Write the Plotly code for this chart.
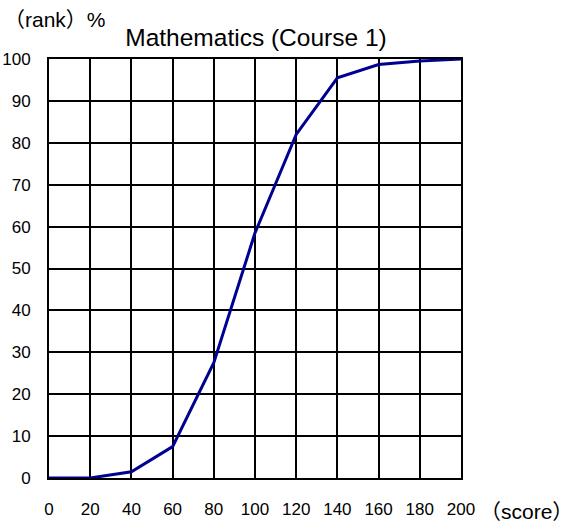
import plotly.graph_objects as go

scores = [0, 20, 40, 60, 80, 100, 120, 140, 160, 180, 200]
rank_pct = [0, 0, 1.5, 7.5, 27.5, 58.5, 82, 95.5, 98.7, 99.5, 100]
x_ticks = [0, 20, 40, 60, 80, 100, 120, 140, 160, 180, 200]
y_ticks = [0, 10, 20, 30, 40, 50, 60, 70, 80, 90, 100]

FONT = "Liberation Sans, Arial, Noto Sans CJK JP, sans-serif"

fig = go.Figure()
fig.add_trace(go.Scatter(
    x=scores, y=rank_pct, mode="lines",
    line=dict(color="#000090", width=3),
    cliponaxis=False, showlegend=False, hoverinfo="skip",
))

W, H = 573, 524
L, T = 49, 59
R, B = W - 461, H - 478
pw, ph = W - L - R, H - T - B


def px(xp):
    return (xp - L) / pw


def py(yp):
    return (H - B - yp) / ph


fig.update_layout(
    width=W, height=H,
    margin=dict(l=L, r=R, t=T, b=B, autoexpand=False),
    paper_bgcolor="white", plot_bgcolor="white",
    font=dict(family=FONT, size=17, color="black"),
    title=dict(text="Mathematics (Course 1)", x=256 / W, xanchor="center",
               y=1 - 37 / H, yanchor="middle", xref="container", yref="container",
               automargin=False,
               font=dict(size=24.5, color="black", family=FONT)),
    xaxis=dict(range=[0, 200], tickvals=x_ticks, ticktext=[str(v) for v in x_ticks],
               showgrid=True, gridcolor="black", gridwidth=2,
               showline=True, linecolor="black", linewidth=2, mirror=True,
               ticks="outside", ticklen=15, tickcolor="rgba(0,0,0,0)",
               zeroline=False, layer="below traces", fixedrange=True, automargin=False),
    yaxis=dict(range=[0, 100], tickvals=y_ticks, ticktext=[str(v) for v in y_ticks],
               showgrid=True, gridcolor="black", gridwidth=2,
               showline=True, linecolor="black", linewidth=2, mirror=True,
               ticks="outside", ticklen=13, tickcolor="rgba(0,0,0,0)",
               zeroline=False, layer="below traces", fixedrange=True, automargin=False),
)

fig.add_annotation(text="（rank）%", xref="paper", yref="paper",
                   x=px(2), y=py(19), xanchor="left", yanchor="middle",
                   showarrow=False, font=dict(size=21, family=FONT))
fig.add_annotation(text="（score）", xref="paper", yref="paper",
                   x=px(478), y=py(512), xanchor="left", yanchor="middle",
                   showarrow=False, font=dict(size=21, family=FONT))

fig.write_html("out.html", config={"displayModeBar": False},
               post_script="document.body.style.margin='0';")
